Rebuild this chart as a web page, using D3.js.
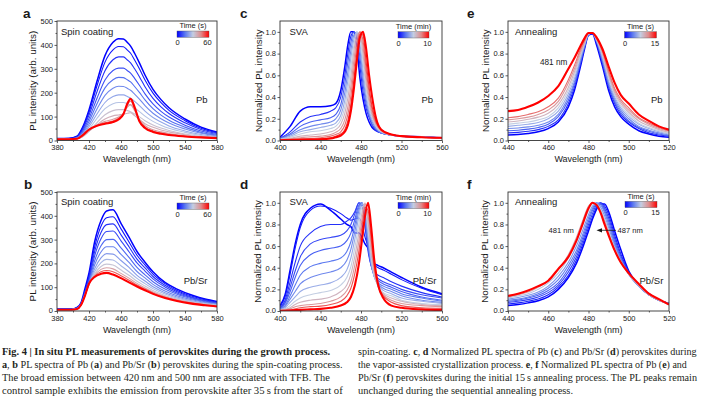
<!DOCTYPE html>
<html><head><meta charset="utf-8">
<script src="https://cdn.jsdelivr.net/npm/d3@7"></script>
<style>body{margin:0;background:#fff}svg{display:block}</style>
</head><body>
<svg id="fig" width="703" height="398"></svg>
<script>
// ---------- DATA ----------
// a: Pb, spin coating (PL intensity, arb. units)
const wavelengthsA = [380,395,405,412,420,430,440,450,457,463,468,472,477,483,490,500,510,520,540,560,580];
const timesA = [0,3,6,10,14,18,23,28,33,37,42,50,60];
const intensityA = [
  [8,9,18,55,128,248,355,411,426,425,410,395,365,325,274,214,171,137,90,56,35],
  [8,8,17,51,118,229,328,379,393,392,378,365,337,300,253,198,158,126,83,51,32],
  [7,7,15,45,106,204,292,338,350,350,337,325,300,267,225,176,141,113,74,46,29],
  [7,7,13,39,92,177,253,293,303,303,292,282,260,231,195,153,122,98,64,40,25],
  [6,6,11,34,80,154,220,254,264,263,254,245,226,201,170,133,106,85,56,34,22],
  [6,6,10,29,68,132,189,219,227,226,218,210,194,173,146,114,91,73,48,30,19],
  [6,6,9,25,58,111,159,184,191,191,184,177,164,146,123,96,77,61,40,25,16],
  [5,5,8,21,48,93,133,154,159,159,153,148,136,121,102,80,64,51,34,21,13],
  [5,5,7,17,39,75,108,125,129,129,125,120,111,99,83,65,52,42,27,17,11],
  [5,5,7,16,38,66,90,103,107,110,114,116,104,88,70,55,44,36,24,15,10],
  [5,5,7,18,42,63,80,89,98,115,140,150,125,88,62,45,36,29,20,14,10],
  [5,5,7,20,44,62,74,82,93,112,150,165,133,84,56,40,31,25,18,13,10],
  [5,5,7,22,46,62,70,77,88,110,155,175,140,80,52,36,28,23,17,13,10]
];
// b: Pb/Sr, spin coating
const wavelengthsB = [380,398,405,410,415,420,427,435,442,450,460,470,480,490,500,515,530,550,565,580];
const timesB = [0,3,6,9,13,17,21,26,32,40,50,60];
const intensityB = [
  [8,8,15,35,95,160,290,380,420,425,368,310,250,205,165,120,92,65,50,40],
  [8,8,14,32,84,146,268,356,392,396,345,290,234,194,155,115,86,61,47,37],
  [7,7,13,30,80,137,249,330,363,366,320,270,218,181,145,108,81,57,44,35],
  [7,7,12,29,77,130,231,304,334,336,295,249,202,168,135,101,76,54,42,33],
  [7,7,11,28,72,122,210,274,300,301,265,225,183,152,123,92,70,50,39,31],
  [6,6,11,27,70,116,193,248,270,270,238,204,166,139,112,84,64,46,36,29],
  [6,6,10,26,68,112,177,223,241,239,212,183,150,126,102,77,59,42,33,27],
  [6,6,10,26,67,111,165,203,217,214,190,165,137,115,94,71,54,39,31,25],
  [6,6,9,25,66,111,156,187,197,193,172,150,125,105,86,65,50,36,29,23],
  [5,5,9,25,66,112,150,175,182,177,158,138,116,97,80,61,47,34,27,21],
  [5,5,8,25,65,113,146,165,170,165,148,129,109,92,76,58,44,32,25,20],
  [5,5,8,25,65,115,143,156,160,153,138,120,103,87,72,55,42,30,24,19]
];
// c: Pb, SVA (normalized)
const wavelengthsC = [400,410,420,430,440,450,455,460,464,467,470,473,476,479,482,485,488,491,495,500,510,520,540,560];
const timesC = [0,1,2,3,4,5,6,7,8,9,10];
const intensityC = [
  [.03,.13,.27,.31,.31,.32,.34,.46,.68,.88,1.0,1.0,.85,.57,.38,.25,.17,.12,.09,.07,.05,.04,.035,.025],
  [.02,.08,.17,.22,.24,.27,.30,.40,.60,.80,.96,1.0,.92,.68,.45,.30,.21,.14,.09,.07,.05,.04,.033,.025],
  [.02,.06,.13,.17,.19,.21,.24,.33,.52,.72,.90,1.0,.96,.76,.52,.34,.23,.15,.10,.07,.05,.04,.032,.025],
  [.015,.05,.10,.13,.15,.17,.20,.28,.44,.63,.83,.97,.99,.83,.58,.38,.25,.17,.11,.07,.05,.04,.032,.025],
  [.012,.04,.08,.10,.12,.14,.16,.23,.37,.55,.76,.93,1.0,.89,.65,.43,.28,.19,.12,.08,.05,.04,.031,.025],
  [.01,.03,.06,.08,.09,.11,.13,.19,.31,.47,.68,.88,1.0,.94,.72,.48,.31,.21,.13,.08,.05,.04,.031,.025],
  [.008,.02,.04,.05,.06,.08,.10,.15,.25,.39,.59,.82,.98,.98,.79,.54,.35,.23,.14,.09,.05,.04,.03,.025],
  [.005,.015,.025,.035,.04,.055,.075,.11,.19,.31,.50,.74,.94,1.0,.86,.60,.39,.25,.15,.09,.05,.04,.03,.025],
  [.004,.01,.015,.02,.025,.04,.055,.08,.14,.24,.41,.65,.88,1.0,.92,.66,.44,.28,.16,.10,.055,.04,.03,.025],
  [.003,.006,.01,.012,.015,.025,.04,.06,.10,.18,.33,.56,.81,.98,.97,.73,.49,.31,.17,.10,.055,.04,.03,.025],
  [.002,.004,.006,.008,.01,.018,.03,.045,.08,.14,.27,.48,.74,.95,1.0,.85,.60,.40,.20,.10,.055,.04,.03,.025]
];
// d: Pb/Sr, SVA (normalized)
const wavelengthsD = [400,405,410,415,420,430,440,450,460,466,470,474,478,481,484,487,490,493,497,502,510,520,540,560];
const timesD = [0,0.5,1,1.5,2,2.5,3,4,5,6,7,8.5,10];
const intensityD = [
  [.05,.15,.38,.62,.80,.95,.99,.93,.85,.80,.78,.72,.72,.68,.62,.58,.50,.44,.42,.40,.36,.31,.22,.16],
  [.04,.13,.34,.58,.77,.93,.97,.95,.90,.86,.84,.85,.86,.80,.68,.60,.50,.43,.40,.38,.34,.29,.21,.15],
  [.03,.10,.27,.45,.60,.72,.78,.80,.80,.83,.86,.92,1.0,.97,.78,.55,.42,.36,.33,.31,.27,.23,.17,.13],
  [.03,.08,.22,.37,.50,.62,.66,.68,.70,.74,.80,.90,1.0,.98,.82,.58,.42,.34,.30,.27,.24,.20,.15,.12],
  [.02,.07,.18,.31,.42,.52,.56,.58,.60,.65,.72,.85,.98,1.0,.85,.60,.43,.33,.28,.25,.22,.18,.13,.10],
  [.02,.05,.14,.24,.33,.41,.44,.46,.49,.55,.64,.80,.96,1.0,.87,.62,.43,.32,.26,.23,.20,.16,.12,.09],
  [.015,.04,.11,.18,.25,.31,.34,.36,.40,.47,.57,.74,.93,1.0,.90,.65,.44,.32,.25,.21,.18,.14,.10,.08],
  [.01,.03,.08,.13,.18,.22,.24,.26,.31,.38,.49,.67,.88,.99,.94,.70,.46,.32,.24,.19,.16,.12,.09,.07],
  [.01,.02,.05,.09,.12,.15,.17,.19,.24,.31,.41,.59,.81,.96,.98,.76,.50,.33,.23,.17,.14,.10,.07,.06],
  [.005,.015,.03,.06,.08,.10,.11,.13,.18,.24,.34,.51,.73,.91,1.0,.82,.55,.35,.22,.16,.12,.09,.06,.05],
  [.005,.01,.02,.04,.05,.06,.07,.09,.13,.19,.27,.43,.65,.85,.99,.88,.61,.38,.22,.15,.10,.07,.05,.04],
  [.003,.005,.01,.02,.03,.04,.045,.06,.09,.14,.21,.35,.56,.78,.96,.93,.67,.42,.23,.14,.08,.05,.03,.025],
  [.002,.003,.005,.008,.01,.015,.02,.03,.05,.08,.13,.24,.44,.66,.88,1.0,.78,.48,.24,.12,.05,.03,.015,.01]
];
// e: Pb, annealing (normalized)
const wavelengthsE = [440,445,450,455,460,465,470,473,476,478,480,482,484,487,490,493,496,500,505,510,515,520];
const timesE = [0,1.5,3,4.5,6,7.5,9,10.5,12,15];
const intensityE = [
  [.05,.055,.065,.08,.11,.17,.31,.46,.68,.84,.97,.98,.88,.68,.46,.31,.22,.15,.09,.06,.04,.03],
  [.07,.075,.085,.10,.13,.19,.34,.49,.70,.85,.97,.99,.90,.70,.49,.34,.24,.17,.11,.07,.05,.04],
  [.09,.095,.105,.12,.15,.22,.37,.52,.72,.86,.97,.99,.91,.72,.51,.36,.26,.18,.12,.085,.06,.045],
  [.11,.115,.125,.14,.17,.24,.40,.54,.74,.87,.98,.99,.92,.74,.53,.38,.28,.20,.13,.095,.07,.05],
  [.13,.14,.15,.165,.20,.27,.43,.57,.76,.88,.98,.99,.92,.76,.55,.40,.30,.22,.15,.11,.08,.06],
  [.15,.16,.17,.19,.22,.30,.46,.60,.78,.89,.98,.99,.93,.78,.58,.42,.32,.24,.16,.12,.09,.065],
  [.17,.18,.195,.215,.25,.33,.49,.63,.80,.90,.98,.99,.93,.79,.60,.44,.34,.26,.18,.135,.10,.075],
  [.19,.20,.215,.24,.28,.36,.53,.66,.82,.91,.99,.99,.94,.81,.62,.46,.36,.28,.20,.15,.11,.085],
  [.21,.22,.24,.265,.31,.39,.56,.69,.84,.92,.99,.99,.94,.82,.64,.48,.38,.30,.21,.16,.12,.09],
  [.27,.28,.31,.35,.41,.50,.66,.76,.87,.94,.99,.99,.95,.84,.68,.53,.42,.34,.24,.18,.13,.10]
];
// f: Pb/Sr, annealing (normalized)
const wavelengthsF = [440,445,450,455,460,465,470,474,477,480,482,484,486,488,490,493,496,500,505,510,515,520];
const timesF = [0,1,2,3,4,5,7,10,15];
const intensityF = [
  [.05,.06,.075,.095,.13,.20,.31,.44,.58,.74,.85,.94,.99,.99,.92,.74,.57,.37,.24,.16,.10,.07],
  [.065,.075,.09,.11,.15,.22,.33,.47,.61,.77,.87,.96,1.0,.97,.89,.70,.53,.36,.23,.15,.10,.07],
  [.08,.09,.105,.13,.17,.24,.36,.50,.64,.80,.90,.98,1.0,.95,.86,.67,.51,.35,.23,.15,.10,.07],
  [.09,.10,.12,.145,.19,.26,.39,.53,.67,.83,.93,.99,.99,.93,.83,.64,.49,.34,.23,.15,.10,.07],
  [.10,.11,.13,.16,.21,.29,.42,.56,.70,.86,.95,1.0,.98,.91,.80,.62,.48,.34,.23,.15,.10,.07],
  [.11,.125,.145,.175,.23,.32,.45,.60,.74,.89,.97,1.0,.96,.88,.77,.60,.47,.34,.23,.15,.10,.07],
  [.12,.14,.16,.20,.26,.35,.49,.64,.79,.93,.99,.99,.94,.85,.74,.58,.46,.34,.23,.15,.10,.065],
  [.13,.15,.175,.22,.28,.38,.52,.68,.83,.97,1.0,.98,.92,.83,.72,.56,.45,.34,.24,.15,.10,.06],
  [.14,.16,.19,.23,.28,.39,.50,.65,.80,.95,1.0,.98,.91,.80,.70,.56,.45,.35,.25,.16,.11,.06]
];
// axis ticks
const ticksSpinX = [380,420,460,500,540,580], minorSpinX = [400,440,480,520,560];
const ticksSpinY = [0,100,200,300,400,500], minorSpinY = [50,150,250,350,450];
const ticksSvaX = [400,440,480,520,560], minorSvaX = [420,460,500,540];
const ticksAnnX = [440,460,480,500,520], minorAnnX = [450,470,490,510];
const ticksNormY = [0,0.2,0.4,0.6,0.8,1.0], minorNormY = [0.1,0.3,0.5,0.7,0.9];

// ---------- DRAWING ----------
const FONT = "'Liberation Sans', Arial, sans-serif";
const svg = d3.select('#fig');
const defs = svg.append('defs');
const stops = ["#0000ff","#5b78f0","#c3cee2","#e08a8a","#ff0000"];
const tColor = d3.scaleLinear().domain([0,.25,.5,.75,1]).range(stops).interpolate(d3.interpolateRgb);
const grad = defs.append('linearGradient').attr('id','cbar');
stops.forEach((c,i)=>grad.append('stop').attr('offset',(i*25)+'%').attr('stop-color',c));

function txt(x,y,s,opt={}){
  return svg.append('text').attr('x',x).attr('y',y).text(s)
    .attr('font-family',FONT).attr('font-size',opt.size||9.5)
    .attr('font-weight',opt.bold?'bold':null)
    .attr('text-anchor',opt.anchor||'start').attr('fill','#1a1a1a');
}

function panel(p){
  const x = d3.scaleLinear().domain(p.xDomain).range([p.left,p.right]);
  const y = d3.scaleLinear().domain(p.yDomain).range([p.bottom,p.top]);
  const id = 'clip'+p.id;
  defs.append('clipPath').attr('id',id).append('rect')
    .attr('x',p.left).attr('y',p.top).attr('width',p.right-p.left).attr('height',p.bottom-p.top);
  const line = d3.line().x((d,i)=>x(p.wl[i])).y(d=>y(d)).curve(d3.curveMonotoneX);
  const cg = svg.append('g').attr('clip-path',`url(#${id})`);
  const n = p.series.length;
  p.series.forEach((s,i)=>{
    cg.append('path').attr('d',line(s)).attr('fill','none')
      .attr('stroke',tColor(p.times[i]/p.tMax))
      .attr('stroke-width', i===0?1.5:(i===n-1?2.1:1.1))
      .attr('stroke-linejoin','round');
  });
  const styleAxis = g => {
    g.select('.domain').remove();
    g.selectAll('line').attr('stroke','#333').attr('stroke-width',0.8);
    g.selectAll('text').attr('font-family',FONT).attr('font-size',7.5).attr('fill','#1a1a1a');
  };
  svg.append('g').attr('transform',`translate(0,${p.bottom})`)
    .call(d3.axisBottom(x).tickValues(p.xTicks).tickSize(2.5).tickPadding(2.1).tickFormat(d3.format('d'))).call(styleAxis);
  svg.append('g').attr('transform',`translate(0,${p.bottom})`)
    .call(d3.axisBottom(x).tickValues(p.xMinor).tickSize(1.5).tickFormat('')).call(styleAxis);
  const ya = svg.append('g').attr('transform',`translate(${p.left},0)`)
    .call(d3.axisLeft(y).tickValues(p.yTicks).tickSize(2.5).tickPadding(1.5).tickFormat(p.yFmt)).call(styleAxis);
  ya.selectAll('text').filter(d=>d===0).attr('dy','0.2em');
  svg.append('g').attr('transform',`translate(${p.left},0)`)
    .call(d3.axisLeft(y).tickValues(p.yMinor).tickSize(1.5).tickFormat('')).call(styleAxis);
  svg.append('rect').attr('x',p.left).attr('y',p.top).attr('width',p.right-p.left).attr('height',p.bottom-p.top)
    .attr('fill','none').attr('stroke','#333').attr('stroke-width',0.9);
  txt((p.left+p.right)/2, p.bottom+21.8, 'Wavelength (nm)', {size:9, anchor:'middle'});
  svg.append('text').attr('transform',`translate(${p.yTitleX},${(p.top+p.bottom)/2}) rotate(-90)`)
    .attr('text-anchor','middle').attr('font-family',FONT).attr('font-size',9.8).attr('fill','#1a1a1a').text(p.yTitle);
  txt(p.letterX, p.top-3, p.letter, {size:13.5, bold:true});
  const cb = p.cbar;
  svg.append('rect').attr('x',cb.x).attr('y',p.top+cb.dy).attr('width',cb.w).attr('height',6.3)
    .attr('fill','url(#cbar)').attr('stroke','#555').attr('stroke-width',0.4);
  txt(cb.x+cb.w/2, p.top+cb.dy-2.6, cb.title, {size:7.5, anchor:'middle'});
  txt(cb.x+0.5, p.top+cb.dy+14, '0', {size:7.5, anchor:'middle'});
  txt(cb.x+cb.w-1.5, p.top+cb.dy+14, cb.max, {size:7.5, anchor:'middle'});
  return {x,y};
}

const fmtInt = d3.format('d'), fmt1 = d3.format('.1f');
const TOP1 = 21, BOT1 = 140.5, TOP2 = 192, BOT2 = 311;

panel({id:'a', letter:'a', letterX:23, left:57, right:217, top:TOP1, bottom:BOT1,
  xDomain:[380,580], yDomain:[0,500], xTicks:ticksSpinX, xMinor:minorSpinX, yTicks:ticksSpinY, yMinor:minorSpinY, yFmt:fmtInt,
  wl:wavelengthsA, times:timesA, tMax:60, series:intensityA, yTitle:'PL intensity (arb. units)', yTitleX:35.5,
  cbar:{x:177, dy:10, w:32, title:'Time (s)', max:'60'}});
panel({id:'b', letter:'b', letterX:24, left:57, right:217, top:TOP2, bottom:BOT2,
  xDomain:[380,580], yDomain:[0,500], xTicks:ticksSpinX, xMinor:minorSpinX, yTicks:ticksSpinY, yMinor:minorSpinY, yFmt:fmtInt,
  wl:wavelengthsB, times:timesB, tMax:60, series:intensityB, yTitle:'PL intensity (arb. units)', yTitleX:35.5,
  cbar:{x:177, dy:11, w:32, title:'Time (s)', max:'60'}});
panel({id:'c', letter:'c', letterX:240, left:280, right:442, top:TOP1, bottom:BOT1,
  xDomain:[400,560], yDomain:[0,1.1], xTicks:ticksSvaX, xMinor:minorSvaX, yTicks:ticksNormY, yMinor:minorNormY, yFmt:fmt1,
  wl:wavelengthsC, times:timesC, tMax:10, series:intensityC, yTitle:'Normalized PL intensity', yTitleX:262,
  cbar:{x:398, dy:10.7, w:31, title:'Time (min)', max:'10'}});
panel({id:'d', letter:'d', letterX:240, left:280, right:442, top:TOP2, bottom:BOT2,
  xDomain:[400,560], yDomain:[0,1.1], xTicks:ticksSvaX, xMinor:minorSvaX, yTicks:ticksNormY, yMinor:minorNormY, yFmt:fmt1,
  wl:wavelengthsD, times:timesD, tMax:10, series:intensityD, yTitle:'Normalized PL intensity', yTitleX:261,
  cbar:{x:398, dy:10.3, w:31, title:'Time (min)', max:'10'}});
panel({id:'e', letter:'e', letterX:467, left:508, right:669, top:TOP1, bottom:BOT1,
  xDomain:[440,520], yDomain:[0,1.1], xTicks:ticksAnnX, xMinor:minorAnnX, yTicks:ticksNormY, yMinor:minorNormY, yFmt:fmt1,
  wl:wavelengthsE, times:timesE, tMax:15, series:intensityE, yTitle:'Normalized PL intensity', yTitleX:489,
  cbar:{x:624.5, dy:10.7, w:32, title:'Time (s)', max:'15'}});
panel({id:'f', letter:'f', letterX:467, left:508, right:669, top:TOP2, bottom:BOT2,
  xDomain:[440,520], yDomain:[0,1.1], xTicks:ticksAnnX, xMinor:minorAnnX, yTicks:ticksNormY, yMinor:minorNormY, yFmt:fmt1,
  wl:wavelengthsF, times:timesF, tMax:15, series:intensityF, yTitle:'Normalized PL intensity', yTitleX:488,
  cbar:{x:625, dy:9.3, w:32, title:'Time (s)', max:'15'}});

// in-plot labels
txt(61, 34.5, 'Spin coating'); txt(207.5, 102.5, 'Pb', {anchor:'end'});
txt(61, 204.5, 'Spin coating'); txt(207.5, 284, 'Pb/Sr', {anchor:'end'});
txt(289.5, 35, 'SVA'); txt(433, 102.5, 'Pb', {anchor:'end'});
txt(289.5, 205, 'SVA'); txt(436.5, 284, 'Pb/Sr', {anchor:'end'});
txt(515, 34.5, 'Annealing'); txt(540, 64.5, '481 nm', {size:8.2}); txt(662.5, 102.5, 'Pb', {anchor:'end'});
txt(515, 204.5, 'Annealing'); txt(548.5, 233, '481 nm', {size:7.6}); txt(617.5, 233, '487 nm', {size:7.6});
txt(663.3, 284, 'Pb/Sr', {anchor:'end'});
svg.append('line').attr('x1',601).attr('y1',230.3).attr('x2',616).attr('y2',230.3).attr('stroke','#1a1a1a').attr('stroke-width',0.8);
svg.append('path').attr('d','M596.5,230.3L602,228.2L602,232.4Z').attr('fill','#1a1a1a');

// ---------- CAPTION ----------
const captionLines = [
  {x:2, y:355, len:328, parts:[['Fig. 4 | In situ PL measurements of perovskites during the growth process.',1]]},
  {x:2, y:368, len:341, parts:[['a',1],[', ',0],['b',1],[' PL spectra of Pb (',0],['a',1],[') and Pb/Sr (',0],['b',1],[') perovskites during the spin-coating process.',0]]},
  {x:2, y:381, len:328, parts:[['The broad emission between 420\u2009nm and 500\u2009nm are associated with TFB. The',0]]},
  {x:2, y:394, len:341, parts:[['control sample exhibits the emission from perovskite after 35\u2009s from the start of',0]]},
  {x:358, y:355, len:339, parts:[['spin-coating. ',0],['c',1],[', ',0],['d',1],[' Normalized PL spectra of Pb (',0],['c',1],[') and Pb/Sr (',0],['d',1],[') perovskites during',0]]},
  {x:358, y:368, len:329, parts:[['the vapor-assisted crystallization process. ',0],['e',1],[', ',0],['f',1],[' Normalized PL spectra of Pb (',0],['e',1],[') and',0]]},
  {x:358, y:381, len:339, parts:[['Pb/Sr (',0],['f',1],[') perovskites during the initial 15\u2009s annealing process. The PL peaks remain',0]]},
  {x:358, y:394, len:215, parts:[['unchanged during the sequential annealing process.',0]]}
];
captionLines.forEach(l=>{
  const t = svg.append('text').attr('transform',`translate(${l.x},${l.y})`)
    .attr('font-family',"'Liberation Serif','Times New Roman',serif").attr('font-size',10.6)
    .attr('fill','#231f20');
  l.parts.forEach(pt=>t.append('tspan').attr('font-weight',pt[1]?'bold':null).text(pt[0]));
  const w = t.node().getComputedTextLength();
  t.attr('transform',`translate(${l.x},${l.y}) scale(${(l.len/w).toFixed(4)},1)`);
});
</script>
</body></html>
